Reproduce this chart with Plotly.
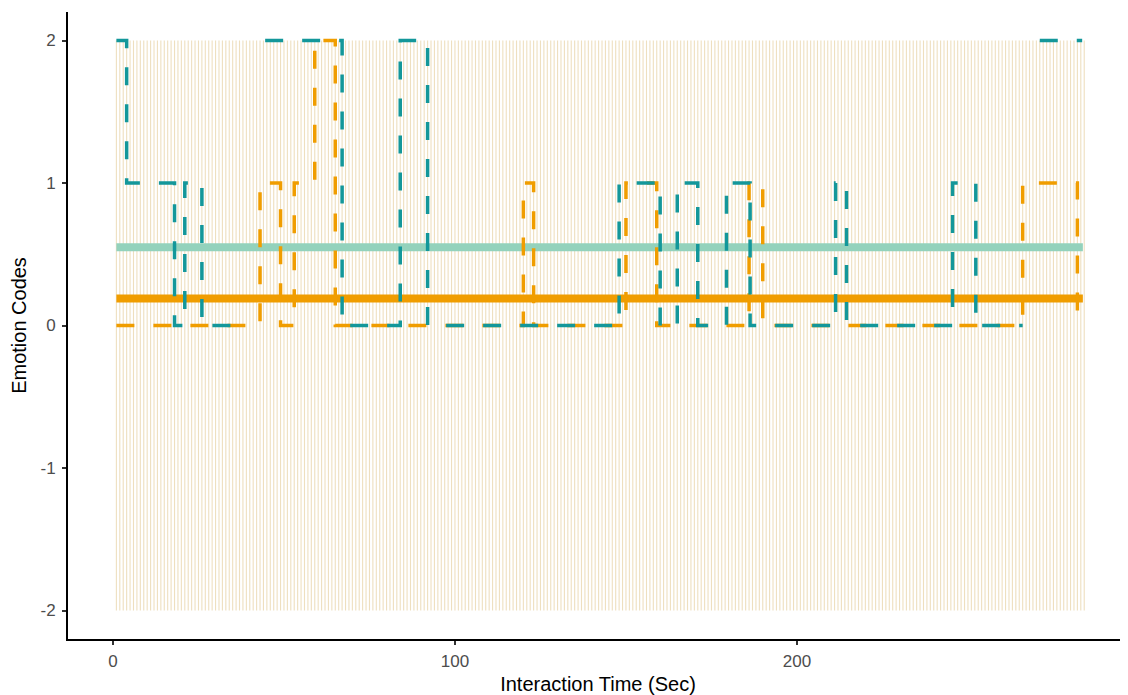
import plotly.graph_objects as go

# ---- data ----
time_seconds = list(range(1, 285))          # one faint guide line per second
guide_low, guide_high = -2, 2

# orange series (step changes: time, code)
orange_time = [1, 43, 49, 53, 59, 65, 120, 123, 150, 159, 186, 190, 266, 282, 283]
orange_code = [0, 1, 0, 1, 2, 0, 1, 0, 1, 0, 1, 0, 1, 0, 0]

# teal series (None = break in the line)
teal_time = [1, 4, 18, 21, 26, 37, None, 44.5, 67, 84, 92, 148, 160, 165, 171,
             179.4, 186.3, 211.3, 214.5, 245.5, 252.3, 266, None, 271, 283.4]
teal_code = [2, 1, 0, 1, 0, 0, None, 2, 0, 2, 0, 1, 0, 1, 0,
             1, 0, 1, 0, 1, 0, 0, None, 2, 2]

# mean levels
mean_span = [1, 283.6]
teal_mean = 0.55
orange_mean = 0.19

x_ticks = [0, 100, 200]
y_ticks = [-2, -1, 0, 1, 2]

# ---- colours ----
c_guide = "rgba(230,208,160,0.68)"
c_teal = "#13979A"
c_teal_mean = "#93D2BC"
c_orange = "#F09D00"

fig = go.Figure()

gx, gy = [], []
for t in time_seconds:
    gx += [t, t, None]
    gy += [guide_low, guide_high, None]
fig.add_trace(go.Scatter(x=gx, y=gy, mode="lines",
                         line=dict(color=c_guide, width=1.1),
                         hoverinfo="skip", showlegend=False))

fig.add_trace(go.Scatter(x=mean_span, y=[teal_mean, teal_mean], mode="lines",
                         line=dict(color=c_teal_mean, width=8), showlegend=False))
fig.add_trace(go.Scatter(x=mean_span, y=[orange_mean, orange_mean], mode="lines",
                         line=dict(color=c_orange, width=8), showlegend=False))

fig.add_trace(go.Scatter(x=orange_time, y=orange_code, mode="lines",
                         line=dict(color=c_orange, width=3.5, shape="hv", dash="18px,19px"),
                         connectgaps=False, showlegend=False))
fig.add_trace(go.Scatter(x=teal_time, y=teal_code, mode="lines",
                         line=dict(color=c_teal, width=3.5, shape="hv", dash="18px,19px"),
                         connectgaps=False, showlegend=False))

font_family = "Liberation Sans, Arial, sans-serif"
fig.update_layout(
    width=1120, height=687,
    margin=dict(l=60, r=0, t=4, b=56),
    paper_bgcolor="white", plot_bgcolor="white",
    font=dict(family=font_family),
    showlegend=False,
)
fig.update_xaxes(
    range=[-13.15, 296.8], tickvals=x_ticks, ticktext=[str(v) for v in x_ticks],
    showgrid=False, zeroline=False, showline=True, linecolor="black", linewidth=2,
    ticks="outside", ticklen=4, tickwidth=1.5, tickcolor="#333333",
    tickfont=dict(size=17, color="#4D4D4D"), automargin=False, ticklabelstandoff=2,
    title=dict(text="Interaction Time (Sec)", font=dict(size=20, color="black"), standoff=16),
)
fig.update_yaxes(
    range=[-2.2, 2.2], tickvals=y_ticks, ticktext=[str(v) for v in y_ticks],
    showgrid=False, zeroline=False, showline=True, linecolor="black", linewidth=2,
    ticks="outside", ticklen=4, tickwidth=1.5, tickcolor="#333333",
    tickfont=dict(size=17, color="#4D4D4D"), automargin=False, ticklabelstandoff=3,
    title=dict(text="Emotion Codes", font=dict(size=20, color="black"), standoff=11),
)

fig.write_html("out.html")
